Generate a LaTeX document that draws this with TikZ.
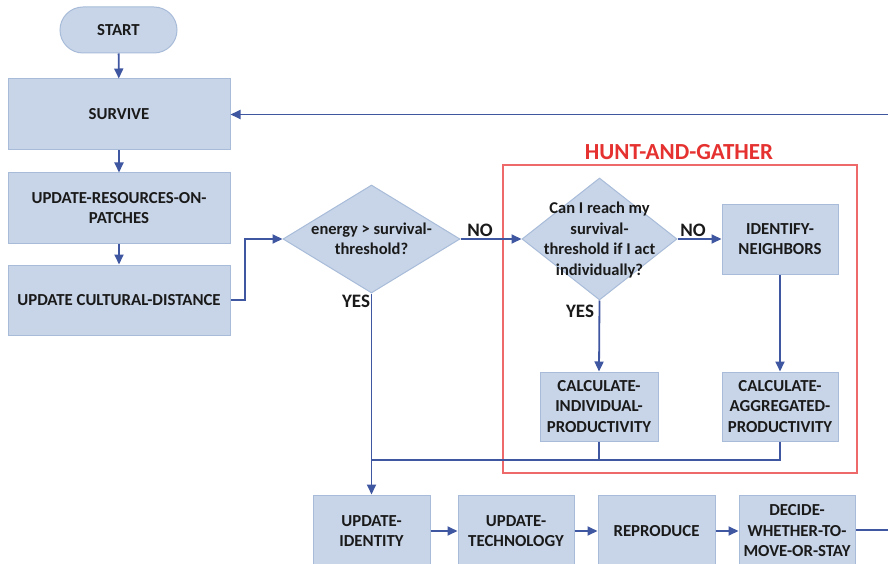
\documentclass[tikz,border=0pt]{standalone}
\usepackage{fontspec}
\setmainfont{Carlito}
\usetikzlibrary{shapes.geometric,arrows.meta}
\definecolor{boxfill}{HTML}{C8D5E8}
\definecolor{boxline}{HTML}{A8BCD9}
\definecolor{arr}{HTML}{3F56A1}
\definecolor{hgred}{HTML}{E5312F}
\definecolor{hgline}{HTML}{EE6A6A}
\definecolor{txt}{HTML}{1A1A1A}
\begin{document}
\begin{tikzpicture}[x=1pt,y=-1pt,
  box/.style={draw=boxline, fill=boxfill, line width=1pt, align=center, text=txt,
    font=\bfseries\fontsize{16.8}{20.5}\selectfont, inner sep=0pt},
  dia/.style={diamond, draw=boxline, fill=boxfill, line width=1pt, inner sep=0pt},
  diatext/.style={align=center, text=txt, font=\bfseries\fontsize{16.5}{20.5}\selectfont, inner sep=0pt},
  lbl/.style={text=txt, font=\bfseries\fontsize{19}{22}\selectfont, inner sep=0pt},
  conn/.style={draw=arr, line width=1.8pt},
  arrow/.style={conn, -{Triangle[length=10pt,width=9pt]}}
]
\clip (0,0) rectangle (888,564);
\fill[white] (0,0) rectangle (888,564);

% hunt-and-gather frame
\draw[hgline, line width=1.3pt] (503,165) rectangle (857,473);
\node[text=hgred, font=\bfseries\fontsize{23}{26}\selectfont, inner sep=0pt] (hgtitle) at (679,152) {HUNT-AND-GATHER};

\node[box, rounded corners=23pt, minimum width=117pt, minimum height=46pt] (start) at (118.5,30) {START};
\node[box, minimum width=222pt, minimum height=71pt] (survive) at (119,114.5) {SURVIVE};
\node[box, minimum width=222pt, minimum height=70pt] (ures) at (119,208) {UPDATE-RESOURCES-ON-\\PATCHES};
\node[box, minimum width=222pt, minimum height=70pt] (ucd) at (119,300) {UPDATE CULTURAL-DISTANCE};

\node[dia, minimum width=177pt, minimum height=108pt] (d1) at (371.5,239) {};
\node[diatext] (d1t) at (371.5,239) {energy > survival-\\threshold?};

\node[dia, minimum width=155pt, minimum height=122pt] (d2) at (599.5,239) {};
\node[diatext] (d2t) at (599.5,240) {Can I reach my\\survival-\\threshold if I act\\individually?};

\node[box, minimum width=116pt, minimum height=70pt] (idn) at (780,239) {IDENTIFY-\\NEIGHBORS};
\node[box, minimum width=118pt, minimum height=69pt] (cind) at (599,406.5) {CALCULATE-\\INDIVIDUAL-\\PRODUCTIVITY};
\node[box, minimum width=116pt, minimum height=69pt] (cagg) at (780,406.5) {CALCULATE-\\AGGREGATED-\\PRODUCTIVITY};

\node[box, minimum width=117pt, minimum height=72pt] (uid) at (371.5,531) {UPDATE-\\IDENTITY};
\node[box, minimum width=116pt, minimum height=72pt] (utec) at (516,531) {UPDATE-\\TECHNOLOGY};
\node[box, minimum width=117pt, minimum height=72pt] (rep) at (656.5,531) {REPRODUCE};
\node[box, minimum width=116pt, minimum height=72pt] (dec) at (797,531) {DECIDE-\\WHETHER-TO-\\MOVE-OR-STAY};

\node[lbl] (no1) at (480,230) {NO};
\node[lbl] (yes1) at (356,301) {YES};
\node[lbl] (no2) at (693,230) {NO};
\node[lbl] (yes2) at (580,311) {YES};

\coordinate (bend) at (245,300);
\coordinate (join) at (371.5,460);
\coordinate (outR) at (888,530);
\coordinate (inR) at (888,114.5);

\draw[arrow] (start) -- (survive);
\draw[arrow] (survive) -- (ures);
\draw[arrow] (ures) -- (ucd);
\draw[arrow] (ucd.east |- bend) -- (bend) |- (d1.west);
\draw[arrow] (d1.east) -- (d2.west);
\draw[arrow] (d1.south) -- (uid.north);
\draw[arrow] (d2.east) -- (idn.west);
\draw[arrow] (d2.south) -- (cind.north);
\draw[arrow] (idn) -- (cagg);
\draw[conn] (cind.south) |- (join);
\draw[conn] (cagg.south) |- (join);
\draw[arrow] (uid) -- (utec);
\draw[arrow] (utec) -- (rep);
\draw[arrow] (rep) -- (dec);
\draw[conn] (dec.east |- outR) -- (outR);
\draw[arrow] (inR) -- (survive.east);
\end{tikzpicture}
\end{document}
